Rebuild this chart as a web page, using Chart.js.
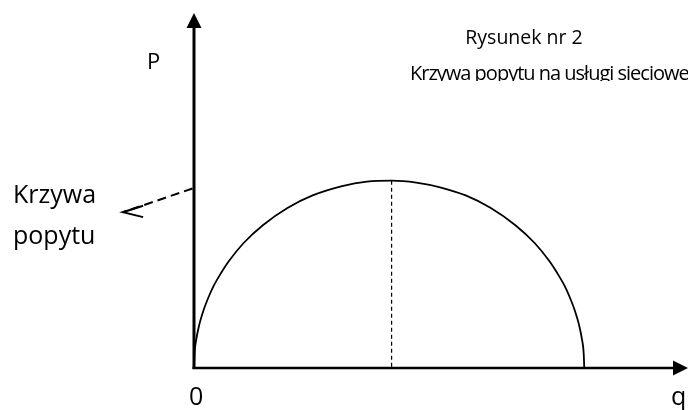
<!DOCTYPE html>
<html>
<head>
<meta charset="utf-8">
<script src="https://cdn.jsdelivr.net/npm/chart.js@4"></script>
<style>
  html, body { margin: 0; padding: 0; background: #fff; }
  #wrap { width: 688px; height: 410px; }
</style>
</head>
<body>
<div id="wrap"><canvas id="chart-demand"></canvas></div>
<script>
// krzywa popytu – półkole nad osią q
const qValues   = [0, 0.1, 0.5, 1, 2, 3, 4, 5.5, 7, 10, 14, 19, 24, 30, 35, 40, 45, 50, 55, 60, 65, 69, 72, 73.5, 75, 76, 77, 78, 78.5, 78.9, 79];
const demandP   = [0, 2.7, 6.0, 8.5, 11.9, 14.5, 16.7, 19.3, 21.6, 25.3, 29.0, 32.5, 35.0, 36.9, 37.8, 38.0, 37.6, 36.6, 35.0, 32.5, 29.0, 25.3, 21.6, 19.3, 16.7, 14.5, 11.9, 8.5, 6.0, 2.7, 0];

// przerywana linia od wierzchołka do osi q
const peakQ = [40, 40];
const peakP = [38, 0];

// przerywana strzałka do opisu "Krzywa popytu"
const pointerQ = [-0.3, -14.4];
const pointerP = [36.4, 31.6];
const pointerHeadQ = [-10.3, -14.4, -10.3];
const pointerHeadP = [32.9, 31.6, 30.6];

// zakres osi
const qMax = 100;
const pMax = 72;

const titleLines = ["Rysunek nr 2", "Krzywa popytu na usługi sieciowe"];
const sideLabel = ["Krzywa", "popytu"];
const axisLabels = { p: "P", q: "q", origin: "0" };

function toPoints(xs, ys) {
  return xs.map((x, i) => ({ x: x, y: ys[i] }));
}

// osie ze strzałkami + teksty
const axesPlugin = {
  id: "axesArrows",
  beforeDatasetsDraw(chart) {
    const ctx = chart.ctx;
    const xs = chart.scales.x, ys = chart.scales.y;
    const x0 = xs.getPixelForValue(0);
    const y0 = ys.getPixelForValue(0);
    const xEnd = xs.getPixelForValue(qMax);
    const yEnd = ys.getPixelForValue(pMax);
    ctx.save();
    ctx.strokeStyle = "#000";
    ctx.fillStyle = "#000";
    // oś P
    ctx.lineWidth = 3;
    ctx.beginPath();
    ctx.moveTo(x0, y0 + 1);
    ctx.lineTo(x0, yEnd + 14);
    ctx.stroke();
    ctx.beginPath();
    ctx.moveTo(x0, yEnd);
    ctx.lineTo(x0 - 7.5, yEnd + 15);
    ctx.lineTo(x0 + 7.5, yEnd + 15);
    ctx.closePath();
    ctx.fill();
    // oś q
    ctx.lineWidth = 2.5;
    ctx.beginPath();
    ctx.moveTo(x0 - 1.5, y0);
    ctx.lineTo(xEnd - 14, y0);
    ctx.stroke();
    ctx.beginPath();
    ctx.moveTo(xEnd, y0);
    ctx.lineTo(xEnd - 15, y0 - 7.5);
    ctx.lineTo(xEnd - 15, y0 + 7.5);
    ctx.closePath();
    ctx.fill();
    ctx.restore();
  },
  afterDatasetsDraw(chart) {
    const ctx = chart.ctx;
    ctx.save();
    ctx.fillStyle = "#000";
    ctx.textBaseline = "alphabetic";
    ctx.textAlign = "left";

    ctx.font = "22px 'Open Sans'";
    ctx.fillText(axisLabels.p, 147, 69);

    ctx.font = "25px 'Open Sans'";
    ctx.fillText(axisLabels.origin, 189, 405);
    ctx.fillText(axisLabels.q, 671, 405);

    ctx.fillText(sideLabel[0], 13, 203);
    ctx.fillText(sideLabel[1], 13, 244);

    ctx.font = "19.5px 'Open Sans'";
    ctx.textAlign = "center";
    ctx.fillText(titleLines[0], 524, 44);

    // druga linia tytułu jest ucięta od dołu, jak w oryginale
    ctx.beginPath();
    ctx.rect(0, 0, 688, 81);
    ctx.clip();
    ctx.textAlign = "left";
    ctx.font = "20px 'Open Sans'";
    ctx.letterSpacing = "-1px";
    ctx.fillText(titleLines[1], 410, 80);
    ctx.restore();
  }
};

const ctx = document.getElementById("chart-demand").getContext("2d");
new Chart(ctx, {
  type: "scatter",
  data: {
    datasets: [
      {
        label: "Krzywa popytu",
        data: toPoints(qValues, demandP),
        showLine: true,
        cubicInterpolationMode: "monotone",
        borderColor: "#000",
        borderWidth: 1.8,
        pointRadius: 0
      },
      {
        label: "wierzchołek",
        data: toPoints(peakQ, peakP),
        showLine: true,
        borderColor: "#000",
        borderWidth: 1.2,
        borderDash: [4, 3],
        pointRadius: 0
      },
      {
        label: "wskaźnik",
        data: toPoints(pointerQ, pointerP),
        showLine: true,
        clip: false,
        borderColor: "#000",
        borderWidth: 2,
        borderDash: [9, 5],
        pointRadius: 0
      },
      {
        label: "grot",
        data: toPoints(pointerHeadQ, pointerHeadP),
        showLine: true,
        clip: false,
        borderColor: "#000",
        borderWidth: 2,
        pointRadius: 0
      }
    ]
  },
  options: {
    responsive: true,
    maintainAspectRatio: false,
    animation: false,
    layout: { padding: { left: 194, right: 0, top: 13, bottom: 42 } },
    plugins: {
      legend: { display: false },
      tooltip: { enabled: false }
    },
    scales: {
      x: { type: "linear", min: 0, max: qMax, display: false },
      y: { type: "linear", min: 0, max: pMax, display: false }
    }
  },
  plugins: [axesPlugin]
});
</script>
</body>
</html>
